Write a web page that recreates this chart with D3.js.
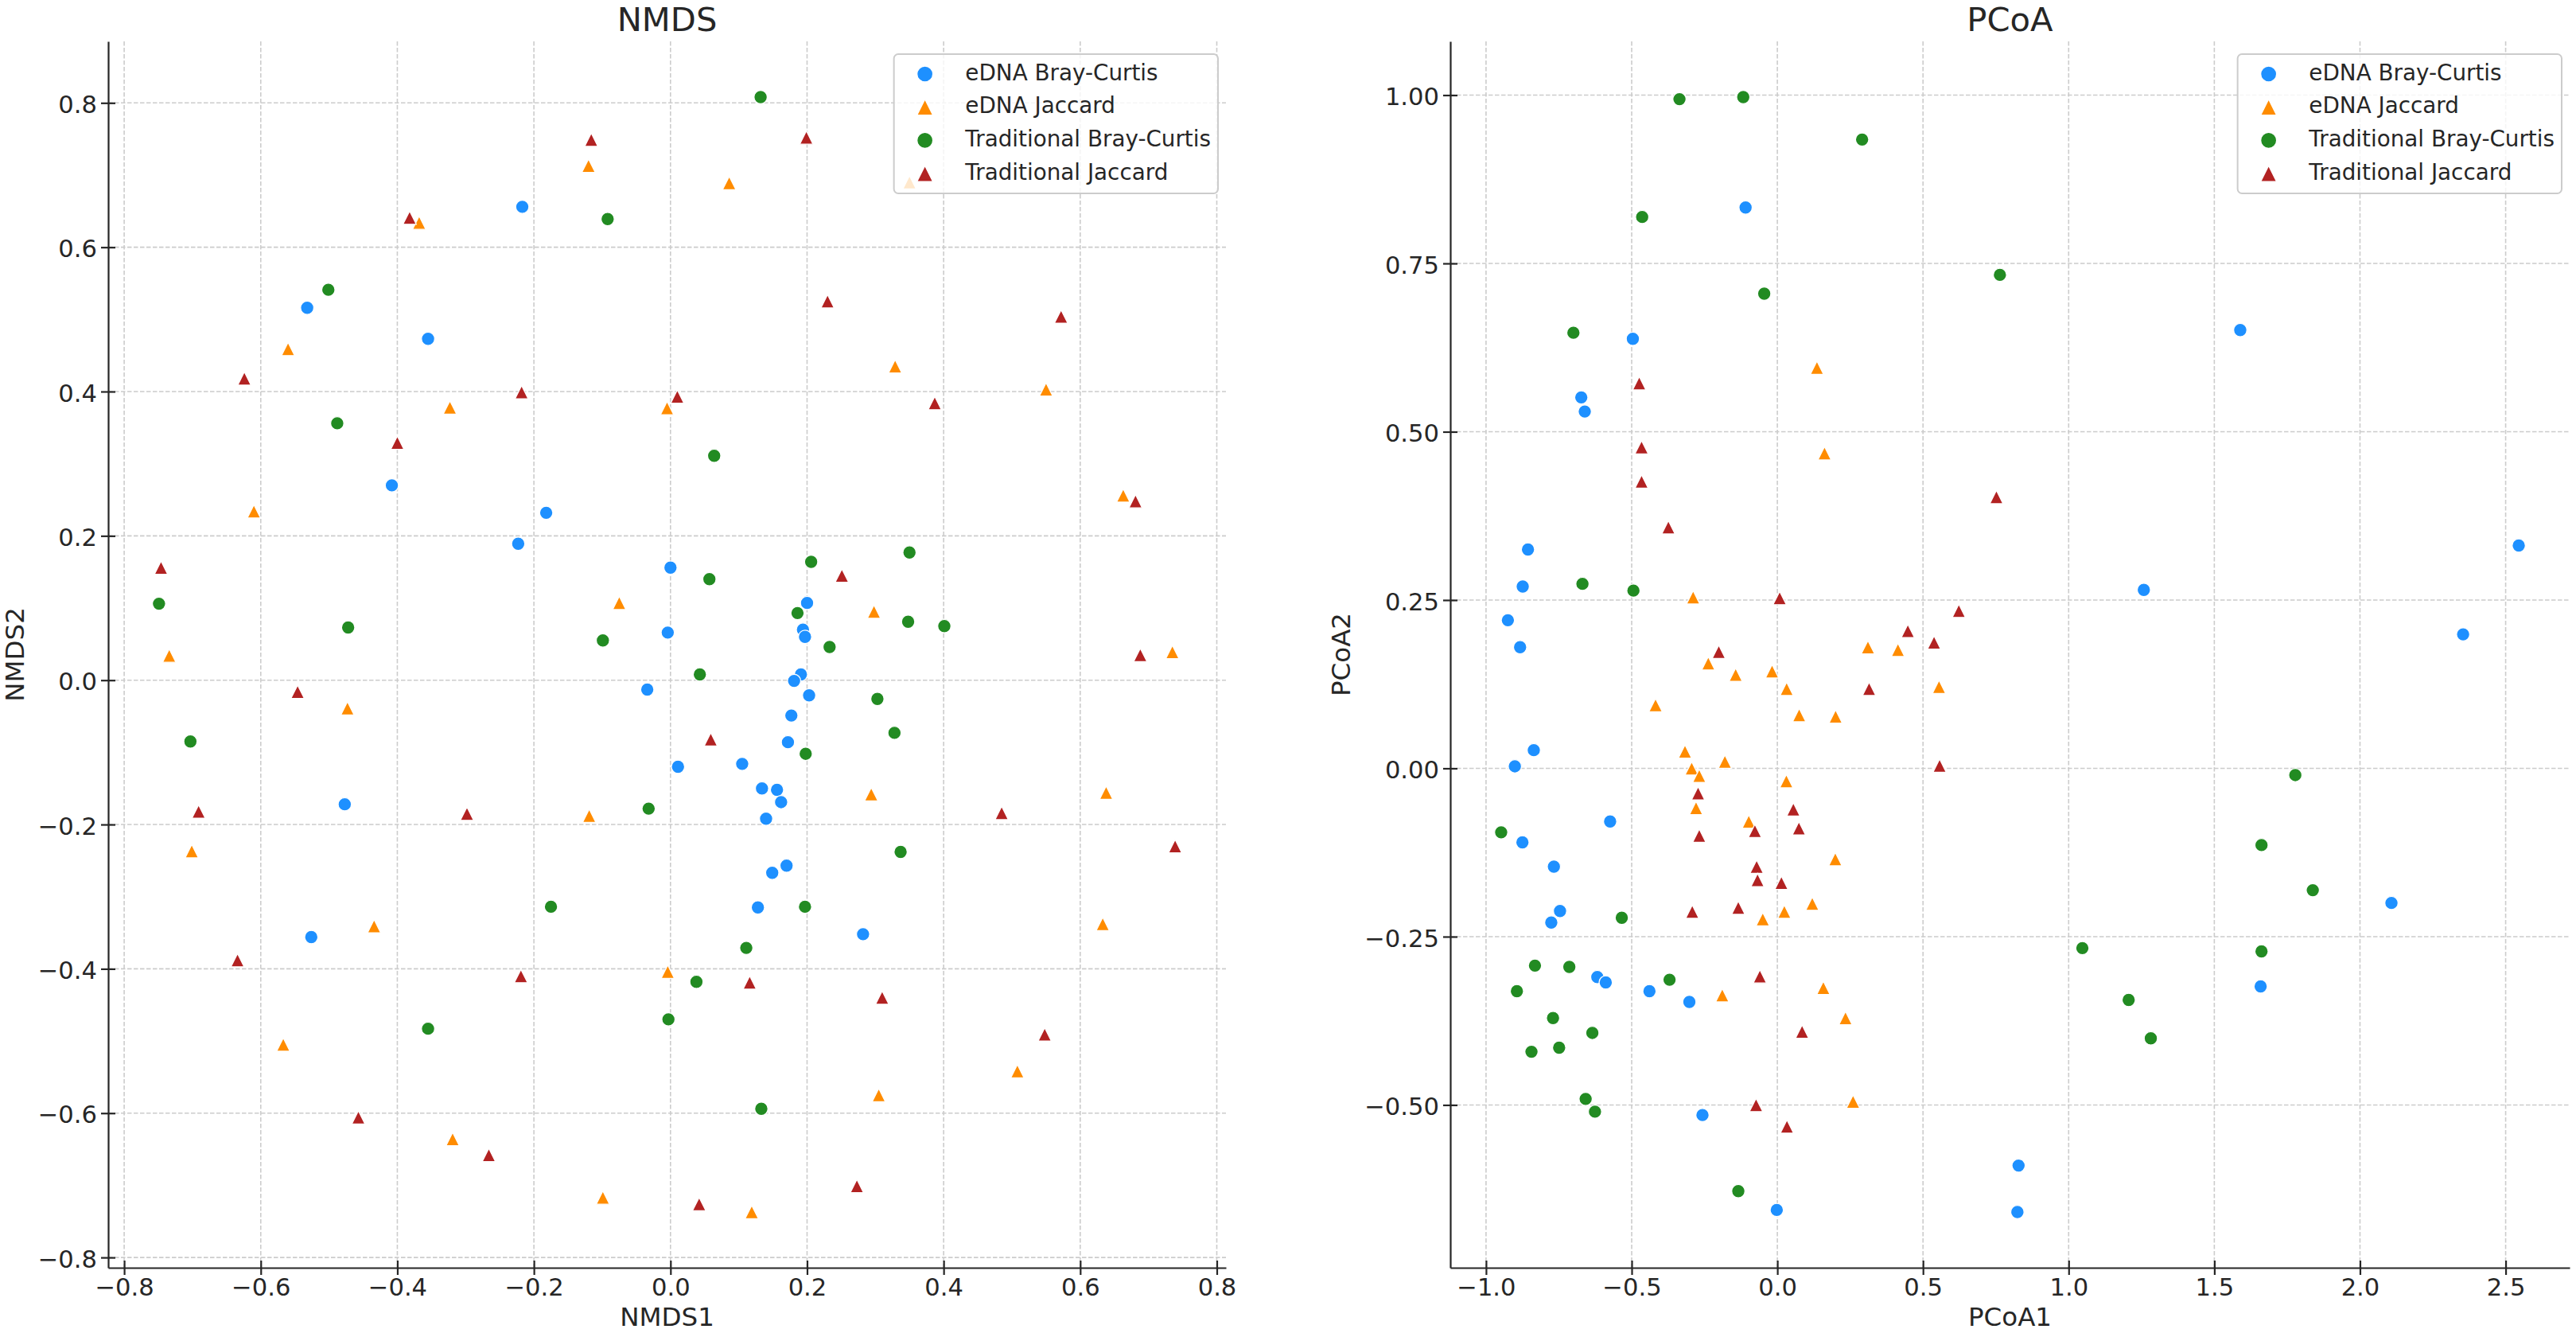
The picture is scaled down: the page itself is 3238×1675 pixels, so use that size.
<!DOCTYPE html>
<html>
<head>
<meta charset="utf-8">
<title>NMDS / PCoA</title>
<script src="https://cdn.jsdelivr.net/npm/d3@7"></script>
<style>
  html, body { margin: 0; padding: 0; background: #fff; }
  svg text { font-family: "DejaVu Sans", sans-serif; fill: #262626; }
</style>
</head>
<body>
<div id="chart"></div>
<script>
'use strict';

// ---- series, in legend / drawing order ----
var seriesNames = ['eDNA Bray-Curtis', 'eDNA Jaccard', 'Traditional Bray-Curtis', 'Traditional Jaccard'];
var seriesColors = ['#1e90ff', '#ff8c00', '#228b22', '#b22222'];
var seriesShapes = ['circle', 'triangle', 'circle', 'triangle'];

// ---- NMDS scores [NMDS1, NMDS2] ----
var nmdsEdnaBray = [
  [-0.217, 0.656], [-0.532, 0.516], [-0.355, 0.473], [-0.408, 0.270], [-0.182, 0.232], [-0.223, 0.189],
  [0.000, 0.156], [-0.004, 0.066], [-0.034, -0.013], [0.011, -0.120], [0.105, -0.116], [0.200, 0.107],
  [0.194, 0.070], [0.197, 0.060], [0.191, 0.008], [0.181, -0.001], [0.203, -0.021], [0.177, -0.049],
  [0.172, -0.086], [0.134, -0.150], [0.156, -0.152], [0.162, -0.169], [0.140, -0.192], [0.170, -0.257],
  [0.149, -0.267], [0.128, -0.315], [0.282, -0.352], [-0.477, -0.172], [-0.526, -0.356]
];
var nmdsEdnaJac = [
  [-0.120, 0.713], [0.086, 0.689], [0.350, 0.690], [-0.368, 0.634], [-0.560, 0.459], [0.329, 0.435],
  [0.550, 0.403], [-0.323, 0.378], [-0.005, 0.377], [0.663, 0.256], [-0.610, 0.234], [-0.075, 0.107],
  [0.298, 0.095], [0.735, 0.039], [-0.734, 0.034], [-0.473, -0.039], [0.294, -0.158], [0.638, -0.156],
  [-0.119, -0.188], [-0.701, -0.237], [-0.434, -0.341], [0.633, -0.338], [-0.004, -0.404], [-0.567, -0.505],
  [0.508, -0.542], [0.305, -0.575], [-0.319, -0.636], [-0.099, -0.717], [0.119, -0.737]
];
var nmdsTradBray = [
  [0.132, 0.808], [-0.092, 0.639], [-0.501, 0.541], [-0.488, 0.356], [0.064, 0.311], [0.350, 0.177],
  [0.206, 0.164], [0.057, 0.140], [-0.749, 0.106], [0.186, 0.093], [0.348, 0.081], [0.401, 0.075],
  [-0.472, 0.073], [-0.099, 0.055], [0.233, 0.046], [0.043, 0.008], [0.303, -0.026], [0.328, -0.073],
  [-0.703, -0.085], [0.198, -0.102], [-0.032, -0.178], [0.337, -0.238], [-0.175, -0.314], [0.197, -0.314],
  [0.111, -0.371], [0.038, -0.418], [-0.003, -0.470], [-0.355, -0.483], [0.133, -0.594]
];
var nmdsTradJac = [
  [-0.116, 0.749], [0.199, 0.752], [-0.382, 0.641], [0.230, 0.525], [0.572, 0.504], [-0.624, 0.418],
  [-0.218, 0.399], [0.010, 0.393], [0.387, 0.384], [-0.400, 0.329], [0.681, 0.248], [-0.746, 0.156],
  [0.251, 0.145], [0.688, 0.035], [-0.546, -0.016], [0.059, -0.082], [-0.691, -0.182], [-0.298, -0.185],
  [0.485, -0.184], [0.739, -0.230], [-0.634, -0.388], [-0.219, -0.410], [0.116, -0.419], [0.310, -0.440],
  [0.548, -0.491], [-0.457, -0.606], [-0.266, -0.658], [0.273, -0.701], [0.042, -0.726]
];

// ---- PCoA scores [PCoA1, PCoA2] ----
var pcoaEdnaBray = [
  [-0.109, 0.833], [-0.496, 0.638], [-0.673, 0.551], [-0.661, 0.530], [-0.856, 0.325], [-0.874, 0.270],
  [-0.925, 0.220], [-0.883, 0.180], [-0.836, 0.027], [-0.901, 0.003], [-0.574, -0.079], [-0.875, -0.110],
  [-0.767, -0.146], [-0.746, -0.212], [-0.776, -0.229], [-0.618, -0.310], [-0.589, -0.318], [-0.439, -0.331],
  [-0.302, -0.347], [-0.257, -0.515], [0.828, -0.590], [-0.002, -0.656], [0.824, -0.659], [1.589, 0.651],
  [1.258, 0.265], [2.545, 0.331], [2.354, 0.199], [2.108, -0.200], [1.659, -0.324]
];
var pcoaEdnaJac = [
  [0.136, 0.595], [0.162, 0.468], [-0.289, 0.254], [0.311, 0.180], [0.414, 0.176], [-0.237, 0.156],
  [-0.143, 0.139], [-0.018, 0.144], [0.032, 0.118], [0.555, 0.121], [-0.418, 0.094], [0.075, 0.079],
  [0.200, 0.077], [-0.317, 0.025], [-0.180, 0.010], [-0.294, 0.000], [-0.268, -0.011], [0.031, -0.019],
  [-0.279, -0.059], [-0.098, -0.079], [0.199, -0.135], [0.120, -0.201], [0.024, -0.213], [-0.050, -0.224],
  [-0.189, -0.337], [0.158, -0.326], [0.234, -0.371], [0.260, -0.495]
];
var pcoaTradBray = [
  [-0.336, 0.994], [-0.117, 0.997], [0.291, 0.934], [-0.464, 0.819], [0.764, 0.733], [-0.045, 0.705],
  [-0.700, 0.647], [-0.669, 0.274], [-0.494, 0.264], [-0.948, -0.095], [-0.534, -0.222], [-0.832, -0.293],
  [-0.714, -0.295], [-0.370, -0.314], [-0.894, -0.331], [-0.770, -0.371], [-0.635, -0.393], [-0.749, -0.415],
  [-0.844, -0.421], [-0.658, -0.491], [-0.626, -0.510], [-0.134, -0.628], [1.778, -0.010], [1.662, -0.114],
  [1.838, -0.181], [1.047, -0.267], [1.662, -0.272], [1.206, -0.344], [1.282, -0.401]
];
var pcoaTradJac = [
  [-0.474, 0.572], [-0.466, 0.477], [-0.466, 0.426], [0.752, 0.403], [-0.374, 0.358], [0.008, 0.253],
  [0.623, 0.234], [0.448, 0.204], [0.538, 0.187], [-0.201, 0.173], [0.315, 0.118], [0.557, 0.004],
  [-0.272, -0.037], [0.055, -0.061], [-0.077, -0.093], [0.074, -0.089], [-0.268, -0.100], [-0.071, -0.146],
  [-0.068, -0.166], [0.014, -0.170], [-0.134, -0.207], [-0.292, -0.213], [-0.060, -0.309], [0.085, -0.391],
  [-0.073, -0.500], [0.033, -0.532]
];

// ---- ticks ----
var nmdsXTicks = [-0.8, -0.6, -0.4, -0.2, 0, 0.2, 0.4, 0.6, 0.8];
var nmdsYTicks = [-0.8, -0.6, -0.4, -0.2, 0, 0.2, 0.4, 0.6, 0.8];
var pcoaXTicks = [-1, -0.5, 0, 0.5, 1, 1.5, 2, 2.5];
var pcoaYTicks = [-0.5, -0.25, 0, 0.25, 0.5, 0.75, 1];

// ---- layout / look ----
var WIDTH = 3238
  , HEIGHT = 1675
  , TOP = 52
  , BOTTOM = 1593
  , MARGIN = 0.05      // matplotlib style auto margins
  , TICK = 9           // half length, ticks go in and out
  , MARKER = 16.7
  , LEGEND_MARKER = 20
  , INK = '#262626'
  , GRID = '#cccccc'
  , FONT = '"DejaVu Sans", sans-serif'
;

var panels = [
  { title: 'NMDS', xLabel: 'NMDS1', yLabel: 'NMDS2', left: 136, right: 1541,
    series: [nmdsEdnaBray, nmdsEdnaJac, nmdsTradBray, nmdsTradJac],
    xTicks: nmdsXTicks, yTicks: nmdsYTicks, xFormat: '.1f', yFormat: '.1f' },
  { title: 'PCoA', xLabel: 'PCoA1', yLabel: 'PCoA2', left: 1823, right: 3230,
    series: [pcoaEdnaBray, pcoaEdnaJac, pcoaTradBray, pcoaTradJac],
    xTicks: pcoaXTicks, yTicks: pcoaYTicks, xFormat: '.1f', yFormat: '.2f' }
];

// matplotlib-like marker shapes, size = (diameter)^2
var shapes = {
  circle: { draw: function (ctx, size) {
    var r = Math.sqrt(size) / 2;
    ctx.moveTo(r, 0);
    ctx.arc(0, 0, r, 0, 2 * Math.PI);
  } },
  triangle: { draw: function (ctx, size) {
    var h = Math.sqrt(size) / 2;
    ctx.moveTo(0, -h);
    ctx.lineTo(h, h);
    ctx.lineTo(-h, h);
    ctx.closePath();
  } }
};

var svg = d3.select('#chart').append('svg')
    .attr('width', WIDTH)
    .attr('height', HEIGHT)
    .attr('viewBox', '0 0 ' + WIDTH + ' ' + HEIGHT);

panels.forEach(function (p) { drawPanel(svg, p); });

/**
 * Draws one scatter panel: grid, points, axes, labels and legend
 */
function drawPanel (svg, p) {
  var all = d3.merge(p.series)
    , xExt = d3.extent(all, function (d) { return d[0]; })
    , yExt = d3.extent(all, function (d) { return d[1]; })
    , xPad = (xExt[1] - xExt[0]) * MARGIN
    , yPad = (yExt[1] - yExt[0]) * MARGIN
  ;

  var x = d3.scaleLinear().domain([xExt[0] - xPad, xExt[1] + xPad]).range([p.left, p.right]);
  var y = d3.scaleLinear().domain([yExt[0] - yPad, yExt[1] + yPad]).range([BOTTOM, TOP]);

  var g = svg.append('g').attr('class', 'panel');

  // dashed grid under everything
  var grid = g.append('g')
      .attr('stroke', GRID)
      .attr('stroke-width', 1.6)
      .attr('stroke-dasharray', '5.5,2.5');
  grid.selectAll('line.gx').data(p.xTicks).enter().append('line')
      .attr('class', 'gx')
      .attr('x1', function (d) { return x(d); })
      .attr('x2', function (d) { return x(d); })
      .attr('y1', TOP).attr('y2', BOTTOM);
  grid.selectAll('line.gy').data(p.yTicks).enter().append('line')
      .attr('class', 'gy')
      .attr('x1', p.left).attr('x2', p.right)
      .attr('y1', function (d) { return y(d); })
      .attr('y2', function (d) { return y(d); });

  // points
  p.series.forEach(function (data, i) {
    g.append('g').attr('class', 'series')
      .selectAll('path').data(data).enter().append('path')
        .attr('transform', function (d) { return 'translate(' + x(d[0]) + ',' + y(d[1]) + ')'; })
        .attr('d', d3.symbol().type(shapes[seriesShapes[i]]).size(MARKER * MARKER))
        .attr('fill', seriesColors[i])
        .attr('stroke', '#fff')
        .attr('stroke-width', 1.3);
  });

  // axes (only left and bottom spines)
  var gx = g.append('g')
      .attr('transform', 'translate(0,' + BOTTOM + ')')
      .call(d3.axisBottom(x)
        .tickValues(p.xTicks)
        .tickFormat(d3.format(p.xFormat))
        .tickSize(TICK)
        .tickSizeOuter(0));
  styleAxis(gx);
  gx.selectAll('.tick line').attr('y1', -TICK);
  gx.selectAll('.tick text').attr('y', 35).attr('dy', null);

  var gy = g.append('g')
      .attr('transform', 'translate(' + p.left + ',0)')
      .call(d3.axisLeft(y)
        .tickValues(p.yTicks)
        .tickFormat(d3.format(p.yFormat))
        .tickSize(TICK)
        .tickPadding(5)
        .tickSizeOuter(0));
  styleAxis(gy);
  gy.selectAll('.tick line').attr('x1', TICK);
  gy.selectAll('.tick text').attr('dy', '0.4em');

  // titles and labels
  var cx = (p.left + p.right) / 2;
  g.append('text')
      .attr('x', cx).attr('y', 39)
      .attr('text-anchor', 'middle')
      .style('font-size', '41.7px')
      .text(p.title);

  g.append('text')
      .attr('x', cx).attr('y', 1666)
      .attr('text-anchor', 'middle')
      .style('font-size', '32.5px')
      .text(p.xLabel);

  var tickBox = gy.node().getBBox();
  g.append('text')
      .attr('transform', 'translate(' + (p.left + tickBox.x - 18) + ',' + ((TOP + BOTTOM) / 2) + ') rotate(-90)')
      .attr('text-anchor', 'middle')
      .style('font-size', '32.5px')
      .text(p.yLabel);

  drawLegend(g, p);
}

function styleAxis (sel) {
  sel.attr('font-family', FONT)
     .attr('font-size', 30.6)
     .attr('color', INK);
  sel.select('.domain').attr('stroke-width', 2.2);
  sel.selectAll('.tick line').attr('stroke-width', 2.2);
}

/**
 * Upper right legend with a translucent white box
 */
function drawLegend (g, p) {
  var legend = g.append('g').attr('class', 'legend')
    , box = legend.append('rect')
  ;

  var rows = legend.selectAll('g.row').data(seriesNames).enter().append('g')
      .attr('class', 'row')
      .attr('transform', function (d, i) { return 'translate(0,' + (25 + i * 41.7) + ')'; });

  rows.append('path')
      .attr('transform', 'translate(39,0)')
      .attr('d', function (d, i) {
        return d3.symbol().type(shapes[seriesShapes[i]]).size(LEGEND_MARKER * LEGEND_MARKER)();
      })
      .attr('fill', function (d, i) { return seriesColors[i]; })
      .attr('stroke', '#fff')
      .attr('stroke-width', 1.3);

  rows.append('text')
      .attr('x', 89.7)
      .attr('y', 7.5)
      .style('font-size', '27.8px')
      .text(function (d) { return d; });

  var textW = d3.max(legend.selectAll('text').nodes(), function (n) { return n.getComputedTextLength(); })
    , w = 89.7 + textW + 9
    , h = 175
  ;

  box.attr('width', w).attr('height', h)
     .attr('rx', 5.5).attr('ry', 5.5)
     .attr('fill', '#fff').attr('fill-opacity', 0.8)
     .attr('stroke', GRID).attr('stroke-width', 2);

  legend.attr('transform', 'translate(' + (p.right - 10 - w) + ',' + (TOP + 16) + ')');
}
</script>
</body>
</html>
